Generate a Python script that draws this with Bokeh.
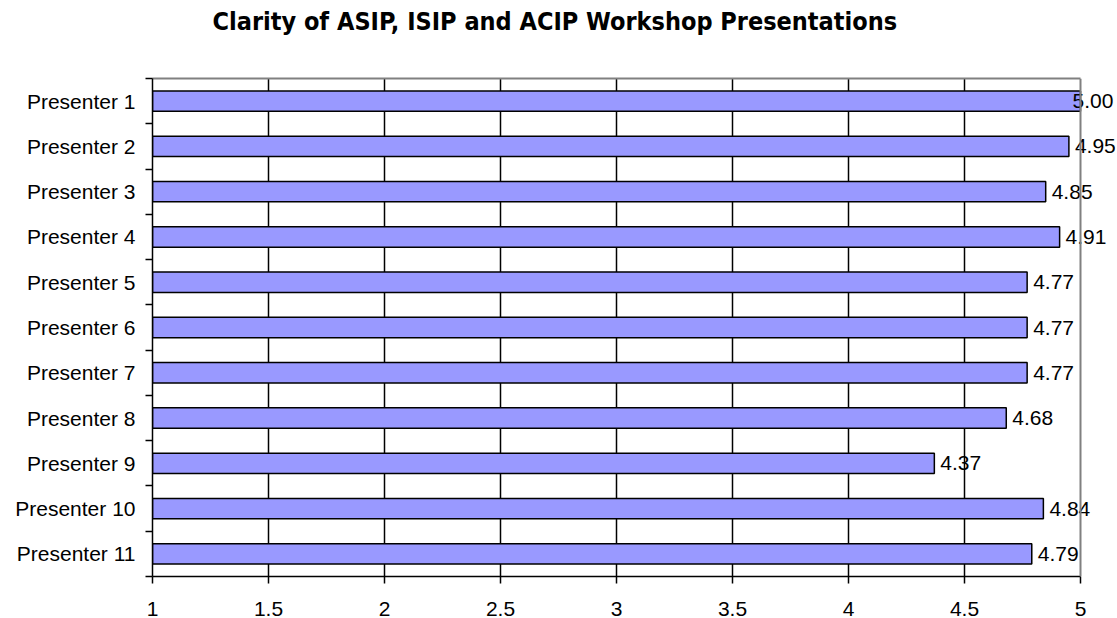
from bokeh.plotting import figure
from bokeh.models import (Range1d, FixedTicker, ColumnDataSource, LabelSet, Span,
                          LinearAxis, Title)
from bokeh.core.properties import value
from bokeh.embed import file_html
from bokeh.resources import INLINE

title_text = "Clarity of ASIP, ISIP and ACIP Workshop Presentations"
presenters = ["Presenter 1", "Presenter 2", "Presenter 3", "Presenter 4", "Presenter 5",
              "Presenter 6", "Presenter 7", "Presenter 8", "Presenter 9", "Presenter 10",
              "Presenter 11"]
scores = [5.00, 4.95, 4.85, 4.91, 4.77, 4.77, 4.77, 4.68, 4.37, 4.84, 4.79]
x_ticks = [1, 1.5, 2, 2.5, 3, 3.5, 4, 4.5, 5]

W, H = 1117, 618
left_px, right_px = 152, 1080      # where x=1 and x=5 fall
frame_right = 1115
x0, x1 = x_ticks[0], x_ticks[-1]
x_end = x0 + (x1 - x0) * (frame_right - left_px) / (right_px - left_px)

n = len(presenters)
centers = [i + 0.5 for i in range(n)]
src = ColumnDataSource(dict(
    y=centers,
    right=scores,
    label=["%.2f" % s for s in scores],
    xoff=[-8 if s >= 4.98 else 6 for s in scores],
))

FS = "21px"

p = figure(width=W, height=H, output_backend="svg", toolbar_location=None,
           x_range=Range1d(x0, x_end), y_range=Range1d(n, 0),
           min_border_left=left_px, min_border_right=W - frame_right,
           min_border_top=78, min_border_bottom=42)
p.outline_line_color = None

p.title = Title(text=title_text, align="left", offset=60,
                text_font="Liberation Sans Narrow, DejaVu Sans Condensed, sans-serif",
                text_font_style="bold", text_font_size="25px", text_color="black",
                standoff=0)

p.hbar(y="y", left=x0, right="right", height=0.45, source=src,
       fill_color="#9999FF", line_color="black", line_width=1.5)

labels = LabelSet(x="right", y="y", text="label", source=src, x_offset="xoff",
                  text_baseline="middle", text_font=value("Liberation Sans"),
                  text_font_size=value(FS), text_color="black")
p.add_layout(labels)

# x axis
p.xaxis.bounds = (x0, x1)
p.xaxis.ticker = FixedTicker(ticks=x_ticks)
p.xaxis.axis_line_color = "black"
p.xaxis.axis_line_width = 1.5
p.xaxis.major_tick_out = 7
p.xaxis.major_tick_in = 0
p.xaxis.major_tick_line_width = 1.5
p.xaxis.minor_tick_line_color = None
p.xaxis.major_label_text_font = "Liberation Sans"
p.xaxis.major_label_text_font_size = FS
p.xaxis.major_label_text_color = "black"
p.xaxis.major_label_standoff = 18

# top border (grey), limited to data extent; its invisible ticks make room below the title
top = LinearAxis(bounds=(x0, x1), ticker=FixedTicker(ticks=[x0]),
                 axis_line_color="#808080", axis_line_width=2,
                 major_tick_out=43, major_tick_in=0, major_tick_line_alpha=0,
                 minor_tick_line_color=None,
                 major_label_text_alpha=0, major_label_text_font_size="1px",
                 major_label_standoff=0)
p.add_layout(top, "above")

# right border (grey) at x = 5
p.add_layout(Span(location=x1, dimension="height", line_color="#808080", line_width=2))

# y axis
p.yaxis.ticker = FixedTicker(ticks=centers, minor_ticks=list(range(n + 1)))
p.yaxis.major_label_overrides = {c: name for c, name in zip(centers, presenters)}
p.yaxis.axis_line_color = "black"
p.yaxis.axis_line_width = 1.5
p.yaxis.major_tick_out = 0
p.yaxis.major_tick_in = 0
p.yaxis.minor_tick_out = 7
p.yaxis.minor_tick_in = 0
p.yaxis.minor_tick_line_width = 1.5
p.yaxis.minor_tick_line_color = "black"
p.yaxis.major_label_text_font = "Liberation Sans"
p.yaxis.major_label_text_font_size = FS
p.yaxis.major_label_text_color = "black"
p.yaxis.major_label_standoff = 10

# grid
p.xgrid.ticker = FixedTicker(ticks=x_ticks[1:-1])
p.xgrid.grid_line_color = "black"
p.xgrid.grid_line_width = 1.5
p.ygrid.grid_line_color = None

open("out.html", "w").write(file_html(p, INLINE))
